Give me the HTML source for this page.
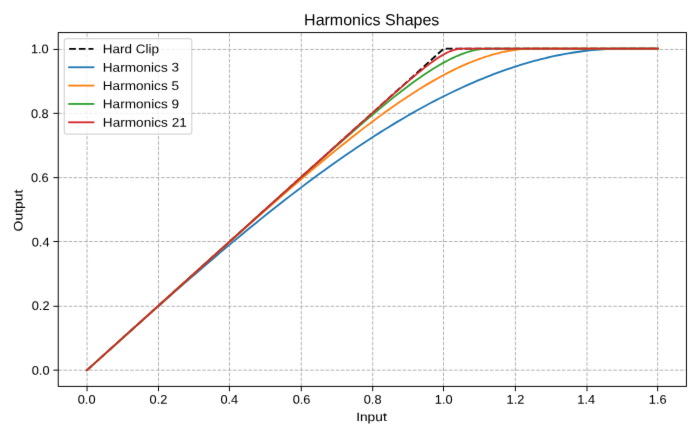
<!DOCTYPE html>
<html lang="en">
<head>
<meta charset="utf-8">
<title>Harmonics Shapes</title>
<style>
html,body{margin:0;padding:0;background:#ffffff;}
body{width:699px;height:438px;overflow:hidden;position:relative;font-family:"Liberation Sans",sans-serif;}
svg{display:block;position:absolute;left:0;top:0;will-change:transform;font-family:"Liberation Sans",sans-serif;}
svg text{font-family:"Liberation Sans",sans-serif;}
</style>
</head>
<body>
<svg width="699" height="438" viewBox="0 0 699 438">
<defs><filter id="soft" x="0" y="0" width="699" height="438" filterUnits="userSpaceOnUse" color-interpolation-filters="sRGB"><feConvolveMatrix order="3" kernelMatrix="0.00524 0.06192 0.00524 0.06192 0.73137 0.06192 0.00524 0.06192 0.00524" divisor="1" edgeMode="duplicate" preserveAlpha="true"/></filter></defs>
<g filter="url(#soft)">
<rect x="0" y="0" width="699" height="438" fill="#ffffff"/>
<!-- grid -->
<g stroke="#b0b0b0" stroke-width="0.971" stroke-dasharray="3.59 1.55" fill="none">
<path d="M87.05,386.40 V32.58"/>
<path d="M158.50,386.40 V32.58"/>
<path d="M229.45,386.40 V32.58"/>
<path d="M301.30,386.40 V32.58"/>
<path d="M372.70,386.40 V32.58"/>
<path d="M443.50,386.40 V32.58"/>
<path d="M515.40,386.40 V32.58"/>
<path d="M587.00,386.40 V32.58"/>
<path d="M657.65,386.40 V32.58"/>
<path d="M58.24,370.15 H686.42"/>
<path d="M58.24,306.30 H686.42"/>
<path d="M58.24,241.50 H686.42"/>
<path d="M58.24,177.65 H686.42"/>
<path d="M58.24,113.35 H686.42"/>
<path d="M58.24,49.45 H686.42"/>
</g>
<!-- curves -->
<clipPath id="c"><rect x="58.24" y="32.58" width="628.18" height="353.82"/></clipPath>
<g clip-path="url(#c)" fill="none" stroke-width="1.820" stroke-linejoin="round">
<path d="M86.79,370.32 L442.71,49.57 L443.86,48.66 L657.87,48.66" stroke="#000000" stroke-dasharray="6.74 2.91"/>
<path d="M86.79,370.32 L111.97,347.64 L126.85,334.29 L139.44,323.03 L150.88,312.84 L161.18,303.71 L170.34,295.64 L179.49,287.61 L188.65,279.63 L196.66,272.70 L204.67,265.80 L212.68,258.96 L220.69,252.16 L227.56,246.38 L234.43,240.64 L241.29,234.95 L248.16,229.30 L255.03,223.70 L261.89,218.15 L267.61,213.56 L273.34,209.01 L279.06,204.50 L284.78,200.03 L290.50,195.60 L296.23,191.21 L301.95,186.86 L307.67,182.56 L313.39,178.30 L319.11,174.09 L324.84,169.93 L330.56,165.82 L336.28,161.76 L342.00,157.75 L347.72,153.79 L352.30,150.66 L356.88,147.57 L361.46,144.51 L366.04,141.49 L370.61,138.50 L375.19,135.55 L379.77,132.64 L384.35,129.77 L388.92,126.94 L393.50,124.15 L398.08,121.40 L402.66,118.69 L407.24,116.02 L411.81,113.39 L416.39,110.81 L420.97,108.27 L425.55,105.78 L430.12,103.32 L434.70,100.92 L439.28,98.56 L443.86,96.24 L448.43,93.98 L453.01,91.76 L457.59,89.59 L462.17,87.46 L466.75,85.39 L471.32,83.37 L475.90,81.40 L479.33,79.95 L482.77,78.54 L486.20,77.15 L489.63,75.79 L493.07,74.47 L496.50,73.17 L499.93,71.90 L503.37,70.66 L506.80,69.46 L510.23,68.29 L513.67,67.14 L517.10,66.03 L520.53,64.95 L523.97,63.90 L527.40,62.89 L530.83,61.91 L534.27,60.96 L537.70,60.04 L541.13,59.16 L544.57,58.31 L548.00,57.50 L551.43,56.72 L554.87,55.97 L558.30,55.26 L561.73,54.58 L565.17,53.94 L568.60,53.33 L572.03,52.76 L575.47,52.23 L578.90,51.73 L582.33,51.27 L585.77,50.84 L589.20,50.46 L592.63,50.10 L596.07,49.79 L599.50,49.52 L602.93,49.28 L606.37,49.08 L609.80,48.92 L613.23,48.80 L616.67,48.71 L620.10,48.67 L640.70,48.66 L657.87,48.66" stroke="#1f77b4" stroke-linecap="square"/>
<path d="M86.79,370.32 L162.33,302.26 L189.79,277.55 L209.25,260.09 L224.13,246.78 L236.71,235.55 L248.16,225.39 L258.46,216.29 L267.61,208.24 L276.77,200.24 L284.78,193.28 L292.79,186.36 L299.66,180.47 L306.53,174.63 L313.39,168.83 L319.11,164.03 L324.84,159.27 L330.56,154.55 L336.28,149.88 L342.00,145.25 L347.72,140.67 L352.30,137.04 L356.88,133.45 L361.46,129.90 L366.04,126.39 L370.61,122.92 L375.19,119.49 L379.77,116.11 L384.35,112.78 L388.92,109.49 L392.36,107.06 L395.79,104.67 L399.22,102.30 L402.66,99.97 L406.09,97.67 L409.52,95.40 L412.96,93.17 L416.39,90.98 L419.82,88.83 L423.26,86.71 L426.69,84.64 L430.12,82.61 L433.56,80.62 L436.99,78.68 L440.42,76.79 L443.86,74.94 L447.29,73.14 L450.72,71.39 L454.16,69.69 L457.59,68.04 L461.02,66.45 L464.46,64.92 L466.75,63.93 L469.03,62.96 L471.32,62.03 L473.61,61.12 L475.90,60.23 L478.19,59.38 L480.48,58.55 L482.77,57.75 L485.06,56.98 L487.35,56.25 L489.63,55.54 L491.92,54.86 L494.21,54.22 L496.50,53.61 L498.79,53.03 L501.08,52.48 L503.37,51.97 L505.66,51.49 L507.95,51.05 L510.23,50.64 L512.52,50.27 L514.81,49.94 L517.10,49.64 L519.39,49.38 L521.68,49.16 L523.97,48.98 L526.26,48.84 L528.55,48.74 L530.83,48.68 L533.12,48.66 L657.87,48.66" stroke="#ff7f0e" stroke-linecap="square"/>
<path d="M86.79,370.32 L244.73,228.00 L275.63,200.19 L295.08,182.72 L308.81,170.43 L320.26,160.23 L330.56,151.09 L338.57,144.02 L346.58,137.00 L353.45,131.02 L359.17,126.08 L364.89,121.17 L370.61,116.31 L375.19,112.46 L379.77,108.65 L384.35,104.87 L388.92,101.15 L392.36,98.39 L395.79,95.66 L399.22,92.96 L402.66,90.30 L406.09,87.68 L409.52,85.10 L412.96,82.57 L416.39,80.09 L419.82,77.66 L422.11,76.07 L424.40,74.51 L426.69,72.98 L428.98,71.47 L431.27,70.00 L433.56,68.56 L435.85,67.15 L438.13,65.78 L440.42,64.44 L442.71,63.15 L445.00,61.89 L447.29,60.68 L449.58,59.51 L451.87,58.38 L454.16,57.31 L455.30,56.79 L456.45,56.28 L457.59,55.79 L458.73,55.31 L459.88,54.85 L461.02,54.40 L462.17,53.96 L463.31,53.54 L464.46,53.13 L465.60,52.74 L466.75,52.36 L467.89,52.00 L469.03,51.66 L470.18,51.33 L471.32,51.02 L472.47,50.72 L473.61,50.45 L474.76,50.19 L475.90,49.95 L477.05,49.73 L478.19,49.53 L479.33,49.35 L480.48,49.19 L481.62,49.05 L482.77,48.93 L483.91,48.83 L485.06,48.76 L486.20,48.70 L487.35,48.67 L490.78,48.66 L657.87,48.66" stroke="#2ca02c" stroke-linecap="square"/>
<path d="M86.79,370.32 L346.58,136.21 L368.32,116.64 L379.77,106.38 L388.92,98.21 L395.79,92.13 L401.51,87.10 L406.09,83.13 L409.52,80.17 L412.96,77.25 L416.39,74.37 L419.82,71.54 L422.11,69.69 L424.40,67.86 L426.69,66.07 L428.98,64.32 L431.27,62.62 L432.41,61.78 L433.56,60.96 L434.70,60.16 L435.85,59.37 L436.99,58.59 L438.13,57.84 L439.28,57.10 L440.42,56.38 L441.57,55.68 L442.71,55.01 L443.86,54.36 L445.00,53.73 L446.15,53.13 L447.29,52.56 L448.43,52.02 L449.58,51.51 L450.72,51.03 L451.87,50.59 L453.01,50.19 L454.16,49.83 L455.30,49.51 L456.45,49.24 L457.59,49.02 L458.73,48.85 L459.88,48.73 L461.02,48.67 L479.33,48.66 L657.87,48.66" stroke="#d62728" stroke-linecap="square"/>
</g>
<!-- ticks and spines -->
<g stroke="#000000" stroke-width="0.971" fill="none">
<path d="M87.05,386.40 v4.85"/>
<path d="M158.50,386.40 v4.85"/>
<path d="M229.45,386.40 v4.85"/>
<path d="M301.30,386.40 v4.85"/>
<path d="M372.70,386.40 v4.85"/>
<path d="M443.50,386.40 v4.85"/>
<path d="M515.40,386.40 v4.85"/>
<path d="M587.00,386.40 v4.85"/>
<path d="M657.65,386.40 v4.85"/>
<path d="M58.24,370.15 h-4.85"/>
<path d="M58.24,306.30 h-4.85"/>
<path d="M58.24,241.50 h-4.85"/>
<path d="M58.24,177.65 h-4.85"/>
<path d="M58.24,113.35 h-4.85"/>
<path d="M58.24,49.45 h-4.85"/>
<rect x="58.24" y="32.58" width="628.18" height="353.82"/>
</g>
<!-- text -->
<g fill="#000000">
<text transform="translate(371.70 25.30) rotate(-0.03)" font-size="16.0" text-anchor="middle" textLength="135.30" lengthAdjust="spacingAndGlyphs">Harmonics Shapes</text>
</g>
<g fill="#000000" stroke="#000000" stroke-width="0.05">
<text transform="translate(86.65 403.70) rotate(-0.03)" font-size="12.6" text-anchor="middle" textLength="17.75" lengthAdjust="spacingAndGlyphs">0.0</text>
<text transform="translate(158.43 403.70) rotate(-0.03)" font-size="12.6" text-anchor="middle" textLength="17.75" lengthAdjust="spacingAndGlyphs">0.2</text>
<text transform="translate(229.32 403.70) rotate(-0.03)" font-size="12.6" text-anchor="middle" textLength="17.75" lengthAdjust="spacingAndGlyphs">0.4</text>
<text transform="translate(301.52 403.70) rotate(-0.03)" font-size="12.6" text-anchor="middle" textLength="17.75" lengthAdjust="spacingAndGlyphs">0.6</text>
<text transform="translate(372.61 403.70) rotate(-0.03)" font-size="12.6" text-anchor="middle" textLength="17.75" lengthAdjust="spacingAndGlyphs">0.8</text>
<text transform="translate(443.66 403.70) rotate(-0.03)" font-size="12.6" text-anchor="middle" textLength="17.75" lengthAdjust="spacingAndGlyphs">1.0</text>
<text transform="translate(515.45 403.70) rotate(-0.03)" font-size="12.6" text-anchor="middle" textLength="17.75" lengthAdjust="spacingAndGlyphs">1.2</text>
<text transform="translate(586.23 403.70) rotate(-0.03)" font-size="12.6" text-anchor="middle" textLength="17.75" lengthAdjust="spacingAndGlyphs">1.4</text>
<text transform="translate(657.68 403.70) rotate(-0.03)" font-size="12.6" text-anchor="middle" textLength="17.75" lengthAdjust="spacingAndGlyphs">1.6</text>
<text transform="translate(49.52 374.75) rotate(-0.03)" font-size="12.6" text-anchor="end" textLength="17.75" lengthAdjust="spacingAndGlyphs">0.0</text>
<text transform="translate(49.52 309.90) rotate(-0.03)" font-size="12.6" text-anchor="end" textLength="17.75" lengthAdjust="spacingAndGlyphs">0.2</text>
<text transform="translate(49.52 246.40) rotate(-0.03)" font-size="12.6" text-anchor="end" textLength="17.75" lengthAdjust="spacingAndGlyphs">0.4</text>
<text transform="translate(48.67 182.05) rotate(-0.03)" font-size="12.6" text-anchor="end" textLength="17.75" lengthAdjust="spacingAndGlyphs">0.6</text>
<text transform="translate(48.67 118.00) rotate(-0.03)" font-size="12.6" text-anchor="end" textLength="17.75" lengthAdjust="spacingAndGlyphs">0.8</text>
<text transform="translate(48.67 53.30) rotate(-0.03)" font-size="12.6" text-anchor="end" textLength="17.75" lengthAdjust="spacingAndGlyphs">1.0</text>
<text transform="translate(371.45 420.95) rotate(-0.03)" font-size="12.1" text-anchor="middle" textLength="30.60" lengthAdjust="spacingAndGlyphs">Input</text>
<text transform="translate(22.55 210.50) rotate(-90.03)" font-size="12.4" text-anchor="middle" textLength="41.80" lengthAdjust="spacingAndGlyphs">Output</text>
</g>
<!-- legend -->
<rect x="64.31" y="38.66" width="127.46" height="95.39" rx="2.4" ry="2.4" fill="#ffffff" fill-opacity="0.8" stroke="#cccccc" stroke-opacity="0.8" stroke-width="1.214"/>
<g fill="none" stroke-width="1.820">
<path d="M69.16,48.91 H93.43" stroke="#000000" stroke-dasharray="6.74 2.91"/>
<path d="M69.16,67.26 H93.43" stroke="#1f77b4" stroke-linecap="square"/>
<path d="M69.16,85.60 H93.43" stroke="#ff7f0e" stroke-linecap="square"/>
<path d="M69.16,103.95 H93.43" stroke="#2ca02c" stroke-linecap="square"/>
<path d="M69.16,122.30 H93.43" stroke="#d62728" stroke-linecap="square"/>
</g>
<g fill="#000000">
<text transform="translate(102.80 53.31) rotate(-0.03)" font-size="12.6" text-anchor="start" textLength="56.30" lengthAdjust="spacingAndGlyphs">Hard Clip</text>
<text transform="translate(102.80 71.66) rotate(-0.03)" font-size="12.6" text-anchor="start" textLength="76.20" lengthAdjust="spacingAndGlyphs">Harmonics 3</text>
<text transform="translate(102.80 90.00) rotate(-0.03)" font-size="12.6" text-anchor="start" textLength="76.20" lengthAdjust="spacingAndGlyphs">Harmonics 5</text>
<text transform="translate(102.80 108.35) rotate(-0.03)" font-size="12.6" text-anchor="start" textLength="76.30" lengthAdjust="spacingAndGlyphs">Harmonics 9</text>
<text transform="translate(102.80 126.70) rotate(-0.03)" font-size="12.6" text-anchor="start" textLength="84.00" lengthAdjust="spacingAndGlyphs">Harmonics 21</text>
</g>
</g>
</svg>
</body>
</html>
